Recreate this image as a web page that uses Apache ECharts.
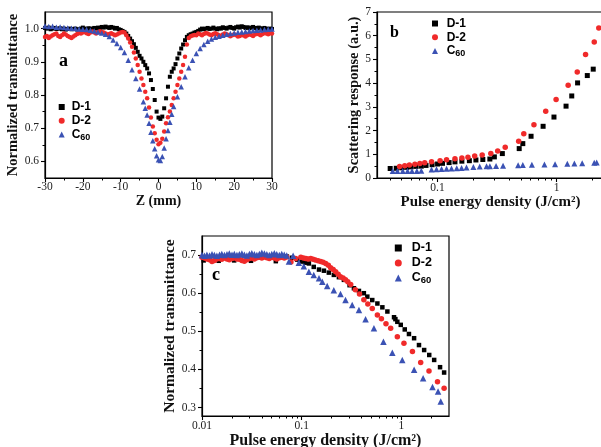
<!DOCTYPE html>
<html><head><meta charset="utf-8">
<script src="https://cdn.jsdelivr.net/npm/echarts@6/dist/echarts.min.js"></script>
<style>html,body{margin:0;padding:0;background:#fff}#c{width:601px;height:447px}</style>
</head><body><div id="c"></div>
<script>
// ---------- Panel a : Z-scan ----------
const zA = [-30,-29.5,-29,-28.5,-28,-27.5,-27,-26.5,-26,-25.5,
-25,-24.5,-24,-23.5,-23,-22.5,-22,-21.5,-21,-20.5,
-20,-19.5,-19,-18.5,-18,-17.5,-17,-16.5,-16,-15.5,
-15,-14.5,-14,-13.5,-13,-12.5,-12,-11.5,-11,-10.5,
-10,-9.5,-9,-8.5,-8,-7.5,-7,-6.5,-6,-5.5,
-5,-4.5,-4,-3.5,-3,-2.5,-2,-1.5,-1,-0.5,
0,0.5,1,1.5,2,2.5,3,3.5,4,4.5,
5,5.5,6,6.5,7,7.5,8,8.5,9,9.5,
10,10.5,11,11.5,12,12.5,13,13.5,14,14.5,
15,15.5,16,16.5,17,17.5,18,18.5,19,19.5,
20,20.5,21,21.5,22,22.5,23,23.5,24,24.5,
25,25.5,26,26.5,27,27.5,28,28.5,29,29.5,30];
const D1a = [1.002,1.000,1.003,0.998,1.000,1.002,0.999,1.000,1.001,0.998,
1.000,0.997,0.999,1.000,0.998,0.999,1.000,0.997,0.998,1.000,
1.003,1.000,0.998,1.001,1.000,0.999,1.002,1.000,1.003,1.002,
1.005,1.003,1.006,1.004,1.002,1.005,1.003,1.000,1.002,0.998,
0.996,0.993,0.990,0.985,0.978,0.970,0.962,0.953,0.942,0.930,
0.918,0.910,0.900,0.890,0.880,0.865,0.845,0.818,0.785,0.750,
0.732,0.728,0.735,0.760,0.790,0.825,0.855,0.870,0.880,0.893,
0.910,0.925,0.940,0.952,0.965,0.975,0.980,0.983,0.985,0.988,
0.990,0.993,0.997,1.000,0.998,1.000,1.002,0.999,1.000,1.003,
1.000,0.998,1.001,1.000,1.004,1.002,1.000,1.003,1.005,1.002,
1.000,1.004,1.006,1.003,1.007,1.005,1.002,1.004,1.001,1.003,
1.005,1.002,1.000,1.003,1.001,0.999,1.002,1.000,0.998,1.000,0.999];
const D2a = [0.975,0.978,0.972,0.976,0.980,0.983,0.985,0.978,0.975,0.980,
0.985,0.982,0.978,0.975,0.972,0.976,0.980,0.984,0.987,0.985,
0.988,0.990,0.986,0.984,0.988,0.991,0.988,0.985,0.989,0.992,
0.990,0.988,0.985,0.982,0.984,0.986,0.983,0.980,0.982,0.985,
0.988,0.990,0.988,0.980,0.970,0.958,0.945,0.928,0.910,0.890,
0.870,0.850,0.830,0.810,0.790,0.762,0.732,0.705,0.685,0.665,
0.652,0.656,0.668,0.690,0.715,0.733,0.750,0.770,0.790,0.810,
0.830,0.850,0.870,0.890,0.915,0.952,0.972,0.977,0.979,0.981,
0.980,0.985,0.983,0.980,0.984,0.987,0.985,0.982,0.980,0.984,
0.986,0.983,0.980,0.978,0.982,0.985,0.983,0.980,0.977,0.980,
0.983,0.980,0.976,0.978,0.982,0.979,0.976,0.980,0.983,0.981,
0.978,0.982,0.985,0.983,0.980,0.984,0.987,0.985,0.983,0.986,0.985];
const zC = [-30,-29,-28,-27,-26,-25,-24,-23,-22,-21,-20,-19,-18,-17,-16,-15,-14,-13,-12,-11,-10,-9,-8,-7,-6,-5,-4,
-3.5,-3,-2.5,-2,-1.5,-1,-0.5,0,0.5,1,1.5,2,2.5,3,3.5,
4,5,6,7,8,9,10,11,12,13,14,15,16,17,18,19,20,21,22,23,24,25,26,27,28,29,30];
const C60a = [1.008,1.006,1.007,1.004,1.005,1.003,1.002,1.001,1.000,0.999,0.998,0.997,0.995,0.993,0.990,0.987,0.983,0.976,0.966,0.955,0.943,0.928,0.905,0.876,0.850,0.818,0.780,
0.760,0.740,0.715,0.688,0.662,0.638,0.617,0.605,0.603,0.615,0.640,0.668,0.693,0.718,0.742,
0.765,0.795,0.825,0.855,0.882,0.905,0.925,0.940,0.952,0.962,0.969,0.974,0.977,0.980,0.983,0.985,0.987,0.989,0.990,0.991,0.993,0.994,0.995,0.996,0.997,0.998,0.999];

// ---------- Panel b : scattering ----------
const xB_D1 = [0.040,0.045,0.050,0.055,0.060,0.066,0.073,0.080,0.090,0.100,0.110,0.125,0.140,0.160,0.185,0.210,0.240,0.275,0.300,0.350,0.485,0.520,0.610,0.770,0.950,1.200,1.340,1.500,1.810,2.030];
const yB_D1 = [0.40,0.41,0.43,0.45,0.47,0.49,0.50,0.53,0.56,0.59,0.62,0.65,0.68,0.71,0.73,0.76,0.78,0.80,0.89,1.03,1.24,1.45,1.76,2.18,2.57,3.03,3.46,4.01,4.32,4.59];
const xB_D2 = [0.048,0.053,0.058,0.0645,0.071,0.078,0.089,0.105,0.119,0.140,0.160,0.180,0.205,0.237,0.280,0.320,0.370,0.480,0.530,0.645,0.810,0.990,1.250,1.490,1.750,2.070,2.260];
const yB_D2 = [0.49,0.52,0.55,0.58,0.61,0.64,0.68,0.73,0.77,0.81,0.84,0.88,0.93,0.97,1.03,1.14,1.30,1.55,1.87,2.25,2.81,3.31,3.91,4.47,5.21,5.74,6.33];
const xB_C60 = [0.042,0.046,0.051,0.056,0.061,0.067,0.073,0.089,0.098,0.108,0.119,0.131,0.145,0.159,0.175,0.200,0.226,0.258,0.275,0.310,0.355,0.475,0.520,0.620,0.790,0.970,1.230,1.410,1.640,2.070,2.170];
const yB_C60 = [0.29,0.29,0.29,0.30,0.30,0.30,0.31,0.36,0.37,0.38,0.39,0.40,0.41,0.42,0.44,0.46,0.48,0.50,0.50,0.51,0.52,0.54,0.55,0.56,0.57,0.58,0.60,0.61,0.62,0.64,0.65];

// ---------- Panel c : optical limiting ----------
const xC_D1 = [0.0104,0.0147,0.021,0.031,0.055,0.071,0.080,0.090,0.100,0.108,0.118,0.132,0.149,0.167,0.187,0.210,0.236,0.265,0.302,0.334,0.375,0.420,0.455,0.510,0.574,0.644,0.723,0.843,0.870,0.910,0.985,1.080,1.190,1.340,1.500,1.690,1.900,2.130,2.440,2.680];
const yC_D1 = [0.686,0.685,0.686,0.685,0.684,0.696,0.693,0.688,0.683,0.680,0.678,0.669,0.662,0.659,0.654,0.648,0.642,0.635,0.621,0.613,0.606,0.600,0.591,0.582,0.573,0.563,0.552,0.537,0.532,0.525,0.517,0.505,0.493,0.482,0.464,0.451,0.438,0.425,0.406,0.392];
const xC_D2 = [0.0100,0.0106,0.0112,0.0119,0.0126,0.0133,0.0141,0.0150,0.0158,0.0168,0.0178,0.0188,0.0200,0.0211,0.0224,0.0237,0.0251,0.0266,0.0282,0.0299,0.0316,0.0335,0.0355,0.0376,0.0398,0.0422,0.0447,0.0473,0.0501,0.0531,0.0562,0.0596,0.0631,0.0668,0.0708,
0.078,0.087,0.098,0.104,0.110,0.116,0.123,0.130,0.137,0.146,0.155,0.164,0.174,0.185,0.195,0.207,0.219,0.232,0.245,0.260,0.275,0.290,0.310,0.345,0.380,0.420,0.460,0.510,0.574,0.630,0.700,0.780,0.910,1.060,1.290,1.560,1.890,2.300,2.680];
const yC_D2 = [0.694,0.692,0.690,0.688,0.683,0.686,0.690,0.691,0.689,0.692,0.690,0.688,0.691,0.693,0.690,0.689,0.686,0.684,0.688,0.691,0.692,0.690,0.693,0.694,0.692,0.695,0.693,0.691,0.694,0.692,0.690,0.693,0.694,0.692,0.695,
0.682,0.691,0.694,0.692,0.691,0.690,0.691,0.689,0.687,0.685,0.683,0.681,0.678,0.673,0.667,0.662,0.656,0.650,0.643,0.640,0.635,0.630,0.623,0.609,0.598,0.583,0.572,0.560,0.543,0.533,0.520,0.508,0.486,0.469,0.447,0.418,0.396,0.368,0.351];
const xC_C60 = [0.0100,0.0106,0.0112,0.0119,0.0126,0.0133,0.0141,0.0150,0.0158,0.0168,0.0178,0.0188,0.0200,0.0211,0.0224,0.0237,0.0251,0.0266,0.0282,0.0299,0.0316,0.0335,0.0355,0.0376,0.0398,0.0422,0.0447,0.0473,0.0501,0.0531,0.0562,0.0596,0.0631,0.0668,0.0708,
0.0745,0.082,0.0935,0.105,0.118,0.132,0.149,0.161,0.180,0.210,0.245,0.275,0.321,0.375,0.437,0.530,0.660,0.810,1.020,1.340,1.650,2.050,2.330,2.480];
const yC_C60 = [0.700,0.698,0.701,0.699,0.702,0.700,0.698,0.701,0.703,0.700,0.702,0.704,0.701,0.703,0.700,0.702,0.704,0.701,0.699,0.703,0.705,0.702,0.700,0.703,0.706,0.704,0.702,0.700,0.703,0.705,0.702,0.700,0.703,0.701,0.699,
0.683,0.698,0.680,0.671,0.656,0.648,0.639,0.630,0.619,0.608,0.598,0.582,0.569,0.556,0.532,0.508,0.473,0.444,0.425,0.399,0.377,0.354,0.342,0.316];

// ---------- tick values ----------
const yTicksA = [0.6,0.7,0.8,0.9,1.0];
const yMinorA = [0.65,0.75,0.85,0.95];
const xTicksB = [0.1,1];
const xMinorB = [0.04,0.05,0.06,0.07,0.08,0.09,0.2,0.3,0.4,0.5,0.6,0.7,0.8,0.9,2];
const xTicksC = [0.01,0.1,1];
const xMinorC = [0.02,0.03,0.04,0.05,0.06,0.07,0.08,0.09,0.2,0.3,0.4,0.5,0.6,0.7,0.8,0.9,2];
const yTicksC = [0.3,0.4,0.5,0.6,0.7];
const yMinorC = [0.35,0.45,0.55,0.65];

const names = ['D-1','D-2','C60'];
const colors = ['#000000','#f02a2a','#3b52b4'];
const symbols = ['rect','circle','triangle'];

const pair = (xs, ys) => xs.map((x, i) => [x, ys[i]]);

const SERIF = 'Liberation Serif';
const SANS = 'Liberation Sans';
const axLine = {show:true, onZero:false, lineStyle:{color:'#000', width:1.2}};
const noLine = {show:false, onZero:false};
const tickMaj = {show:true, length:4, lineStyle:{color:'#000', width:1.1}};
const lbl = {fontFamily:SERIF, fontSize:11.5, color:'#222'};
const nameStyle = (fs) => ({fontFamily:SERIF, fontWeight:'bold', fontSize:fs, color:'#111'});
const fmtNum = v => String(+(+v).toPrecision(6));

const gridBase = {show:false, containLabel:false, outerBoundsMode:'none'};
const gridA = {left:45, top:12, width:227, height:166};
const gridB = {left:377, top:12, width:227, height:166};
const gridC = {left:202, top:236, width:247, height:180};

function legend(left, top, gap, isz, pad, fs) {
  return {
    orient:'vertical', left:left, top:top, itemGap:gap, itemWidth:isz, itemHeight:isz,
    data:names, padding:0, selectedMode:false,
    formatter: n => n === 'C60' ? '{n|C}{s|60}' : '{n|' + n + '}',
    textStyle:{fontFamily:SANS, fontWeight:'bold', fontSize:fs, color:'#000',
      rich:{
        n:{fontFamily:SANS, fontWeight:'bold', fontSize:fs, lineHeight:15, color:'#000', padding:[0,0,0,pad]},
        s:{fontFamily:SANS, fontWeight:'bold', fontSize:fs-3, lineHeight:6, verticalAlign:'bottom', color:'#000'}
      }}
  };
}

const sizesA = [[4,4],4.5,5.5];
const sizesB = [[5,5],5.5,6];
const sizesC = [[4.5,4.5],5.5,6.5];

const series = [];
const dataA = [pair(zA, D1a), pair(zA, D2a), pair(zC, C60a)];
const dataB = [pair(xB_D1, yB_D1), pair(xB_D2, yB_D2), pair(xB_C60, yB_C60)];
const dataC = [pair(xC_D1, yC_D1), pair(xC_D2, yC_D2), pair(xC_C60, yC_C60)];
[[dataA, sizesA, 0], [dataB, sizesB, 1], [dataC, sizesC, 2]].forEach(([ds, sz, idx]) => {
  ds.forEach((d, k) => {
    series.push({type:'scatter', name:names[k], xAxisIndex:idx, yAxisIndex:idx, data:d,
      symbol:symbols[k], symbolSize:sz[k], itemStyle:{color:colors[k], opacity:1},
      emphasis:{disabled:true}, animation:false, z:2+k});
  });
});

const option = {
  backgroundColor:'#fff',
  animation:false,
  grid:[
    Object.assign({}, gridBase, gridA, {show:true, borderColor:'#000', borderWidth:1.2, backgroundColor:'transparent'}),
    Object.assign({}, gridBase, gridB, {show:true, borderColor:'#000', borderWidth:1.2, backgroundColor:'transparent'}),
    Object.assign({}, gridBase, gridC, {show:true, borderColor:'#000', borderWidth:1.2, backgroundColor:'transparent'}),
    Object.assign({}, gridBase, gridB),
    Object.assign({}, gridBase, gridC),
    Object.assign({}, gridBase, gridA)
  ],
  title:[
    {text:'a', left:59, top:52, padding:0, textStyle:{fontFamily:SERIF, fontWeight:'bold', fontSize:18, color:'#000'}},
    {text:'b', left:390, top:25, padding:0, textStyle:{fontFamily:SERIF, fontWeight:'bold', fontSize:16, color:'#000'}},
    {text:'c', left:212, top:266, padding:0, textStyle:{fontFamily:SERIF, fontWeight:'bold', fontSize:18, color:'#000'}}
  ],
  legend:[
    legend(58.7, 101, 1.7, 6, 2, 12),
    legend(432, 17.5, 1.7, 6, 3.7, 12),
    legend(394.8, 241.5, 2, 7, 4.9, 12.5)
  ],
  xAxis:[
    {gridIndex:0, type:'value', min:-30, max:30, interval:10, position:'bottom',
     axisLine:axLine, axisTick:tickMaj, minorTick:{show:true, splitNumber:2, length:2.5, lineStyle:{color:'#000', width:1}},
     splitLine:{show:false}, minorSplitLine:{show:false},
     axisLabel:Object.assign({margin:3}, lbl),
     name:'Z (mm)', nameLocation:'middle', nameGap:15, nameTextStyle:nameStyle(14)},
    {gridIndex:1, type:'log', logBase:10, min:0.031, max:2.5, position:'bottom',
     axisLine:axLine, axisTick:Object.assign({customValues:xTicksB}, tickMaj), splitLine:{show:false},
     axisLabel:Object.assign({margin:4, customValues:xTicksB, formatter:fmtNum}, lbl),
     name:'Pulse energy density (J/cm²)', nameLocation:'middle', nameGap:16, nameTextStyle:nameStyle(15)},
    {gridIndex:2, type:'log', logBase:10, min:0.01, max:3, position:'bottom',
     axisLine:axLine, axisTick:Object.assign({customValues:xTicksC}, tickMaj), splitLine:{show:false},
     axisLabel:Object.assign({margin:4, customValues:xTicksC, formatter:fmtNum}, lbl),
     name:'Pulse energy density (J/cm²)', nameLocation:'middle', nameGap:15, nameTextStyle:nameStyle(16)},
    {gridIndex:3, type:'log', logBase:10, min:0.031, max:2.5, position:'bottom',
     axisLine:noLine, axisTick:{show:true, customValues:xMinorB, length:2.5, lineStyle:{color:'#000', width:1}},
     axisLabel:{show:false}, splitLine:{show:false}},
    {gridIndex:4, type:'log', logBase:10, min:0.01, max:3, position:'bottom',
     axisLine:noLine, axisTick:{show:true, customValues:xMinorC, length:2.5, lineStyle:{color:'#000', width:1}},
     axisLabel:{show:false}, splitLine:{show:false}},
    {gridIndex:5, type:'value', min:-30, max:30, show:false, axisLine:noLine}
  ],
  yAxis:[
    {gridIndex:0, type:'value', min:0.55, max:1.05, position:'left',
     axisLine:axLine, axisTick:Object.assign({customValues:yTicksA}, tickMaj), splitLine:{show:false},
     axisLabel:Object.assign({margin:6, customValues:yTicksA, formatter:v => (+v).toFixed(1)}, lbl),
     name:'Normalized transmittance', nameLocation:'middle', nameGap:21, nameTextStyle:nameStyle(14.5)},
    {gridIndex:1, type:'value', min:0, max:7, interval:1, position:'left',
     axisLine:axLine, axisTick:tickMaj, minorTick:{show:true, splitNumber:2, length:2.5, lineStyle:{color:'#000', width:1}},
     splitLine:{show:false}, minorSplitLine:{show:false},
     axisLabel:Object.assign({margin:6}, lbl),
     name:'Scattering response (a.u.)', nameLocation:'middle', nameGap:15, nameTextStyle:nameStyle(14.5)},
    {gridIndex:2, type:'value', min:0.278, max:0.75, position:'left',
     axisLine:axLine, axisTick:Object.assign({customValues:yTicksC}, tickMaj), splitLine:{show:false},
     axisLabel:Object.assign({margin:6, customValues:yTicksC, formatter:v => (+v).toFixed(1)}, lbl),
     name:'Normalized transmittance', nameLocation:'middle', nameGap:24, nameTextStyle:nameStyle(15.5)},
    {gridIndex:3, type:'value', min:0, max:7, show:false, axisLine:noLine},
    {gridIndex:4, type:'value', min:0.278, max:0.75, position:'left',
     axisLine:noLine, axisTick:{show:true, customValues:yMinorC, length:2.5, lineStyle:{color:'#000', width:1}},
     axisLabel:{show:false}, splitLine:{show:false}},
    {gridIndex:5, type:'value', min:0.55, max:1.05, position:'left',
     axisLine:noLine, axisTick:{show:true, customValues:yMinorA, length:2.5, lineStyle:{color:'#000', width:1}},
     axisLabel:{show:false}, splitLine:{show:false}}
  ],
  series:series
};

const chart = echarts.init(document.getElementById('c'), null, {renderer:'canvas'});
chart.setOption(option);
</script>
</body></html>
